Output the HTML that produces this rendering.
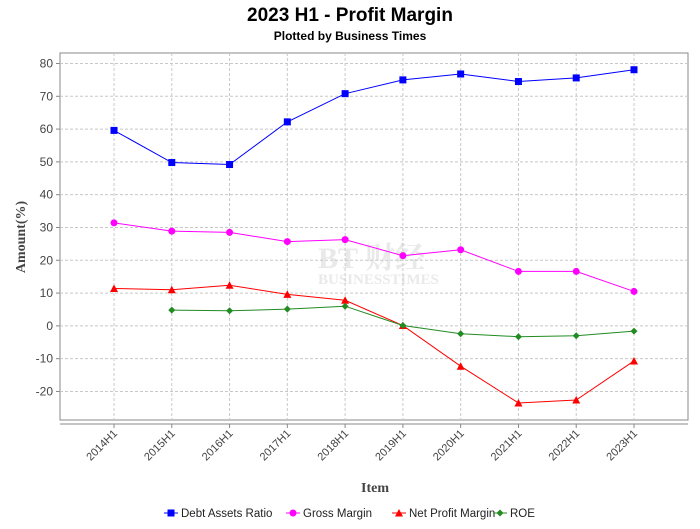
<!DOCTYPE html>
<html><head><meta charset="utf-8"><style>
body{margin:0;background:#fff;width:700px;height:524px;overflow:hidden;font-family:"Liberation Sans",sans-serif}
</style></head><body>
<svg id="c" width="700" height="524" xmlns="http://www.w3.org/2000/svg">
<text x="350" y="21" text-anchor="middle" font-size="19" font-weight="bold" font-family="Liberation Sans">2023 H1 - Profit Margin</text>
<text x="350" y="40" text-anchor="middle" font-size="12" font-weight="bold" font-family="Liberation Sans">Plotted by Business Times</text>
<g id="wm" opacity="0.18">
<text x="318" y="268" font-size="30" font-family="Liberation Serif, Noto Serif CJK SC, serif" fill="#888" font-weight="bold">BT 财经</text>
<text x="318" y="284" font-size="15" font-family="Liberation Serif, serif" fill="#888" font-weight="bold">BUSINESSTIMES</text>
</g>
</svg>
<script>
const categories=["2014H1","2015H1","2016H1","2017H1","2018H1","2019H1","2020H1","2021H1","2022H1","2023H1"];
const debtAssets=[59.6,49.8,49.2,62.2,70.8,75.0,76.8,74.5,75.6,78.1];
const grossMargin=[31.4,28.9,28.5,25.7,26.3,21.4,23.2,16.6,16.6,10.5];
const netProfitMargin=[11.4,11.0,12.4,9.6,7.8,0.1,-12.3,-23.5,-22.6,-10.7];
const roe=[null,4.8,4.6,5.1,6.0,0.1,-2.4,-3.3,-3.0,-1.6];
const yTicks=[-20,-10,0,10,20,30,40,50,60,70,80];
const L=60,R=688,T=53,B=420,yMin=-28.7,yMax=83.2;
const svg=document.getElementById('c');
const NS='http://www.w3.org/2000/svg';
const xs=i=>114+i*(634-114)/(categories.length-1);
const ys=v=>B-(v-yMin)/(yMax-yMin)*(B-T);
function mk(t,a,p){const e=document.createElementNS(NS,t);for(const k in a)e.setAttribute(k,a[k]);(p||svg).appendChild(e);return e;}
const plot=mk('rect',{x:L,y:T,width:R-L,height:B-T,fill:'#fff',stroke:'#888'});


svg.insertBefore(plot,document.getElementById('wm'));
yTicks.forEach(v=>{const y=ys(v);
 const g=mk('line',{x1:L,x2:R,y1:y,y2:y,stroke:'#c8c8c8','stroke-dasharray':'3,2'});
 
 
 mk('line',{x1:L-4,x2:L,y1:y,y2:y,stroke:'#888'});
 const t=mk('text',{x:L-7,y:y+4,'text-anchor':'end','font-size':12,fill:'#444'});t.textContent=v;
 
 
});
categories.forEach((c,i)=>{const x=xs(i);
 const g=mk('line',{x1:x,x2:x,y1:T,y2:B,stroke:'#c8c8c8','stroke-dasharray':'3,2'});
 
 
 mk('line',{x1:x,x2:x,y1:B+4,y2:B+8,stroke:'#888'});
 const t=mk('text',{x:x+4,y:B+14,'text-anchor':'end','font-size':11,fill:'#444',transform:`rotate(-45 ${x+4} ${B+14})`});t.textContent=c;
 
 
});
mk('line',{x1:L,x2:R,y1:B+4,y2:B+4,stroke:'#888'});
const xt=mk('text',{x:375,y:492,'text-anchor':'middle','font-size':14,'font-weight':'bold','font-family':'Liberation Serif',fill:'#444'});xt.textContent='Item';


const yt=mk('text',{x:25,y:237,'text-anchor':'middle','font-size':14,'font-weight':'bold','font-family':'Liberation Serif',fill:'#444',transform:'rotate(-90 25 237)'});yt.textContent='Amount(%)';


function marker(shape,x,y,col,p){
 if(shape==='sq')return mk('rect',{x:x-3.5,y:y-3.5,width:7,height:7,fill:col},p);
 if(shape==='ci')return mk('circle',{cx:x,cy:y,r:3.5,fill:col},p);
 if(shape==='tr')return mk('polygon',{points:`${x},${y-4} ${x+4},${y+3.5} ${x-4},${y+3.5}`,fill:col},p);
 return mk('polygon',{points:`${x},${y-3.5} ${x+3.5},${y} ${x},${y+3.5} ${x-3.5},${y}`,fill:col},p);
}
const series=[["Debt Assets Ratio",debtAssets,'#0000ff','sq'],["Gross Margin",grossMargin,'#ff00ff','ci'],["Net Profit Margin",netProfitMargin,'#ff0000','tr'],["ROE",roe,'#228b22','di']];
series.forEach(([name,vals,col,sh])=>{
 const g=mk('g',{});
 
 
 let d='';vals.forEach((v,i)=>{if(v===null)return;d+=(d?'L':'M')+xs(i)+','+ys(v);});
 mk('path',{d,fill:'none',stroke:col,'stroke-width':1},g);
 vals.forEach((v,i)=>{if(v===null)return;const m=marker(sh,xs(i),ys(v),col,g);
  
  });
});
const lx=[164,286,392,493];
series.forEach(([name,,col,sh],i)=>{
 const g=mk('g',{});
 
 
 mk('line',{x1:lx[i],x2:lx[i]+14,y1:513,y2:513,stroke:col},g);
 marker(sh,lx[i]+7,513,col,g);
 const t=mk('text',{x:lx[i]+17,y:517,'font-size':11.5,fill:'#222'},g);t.textContent=name;
});
</script>
</body></html>
